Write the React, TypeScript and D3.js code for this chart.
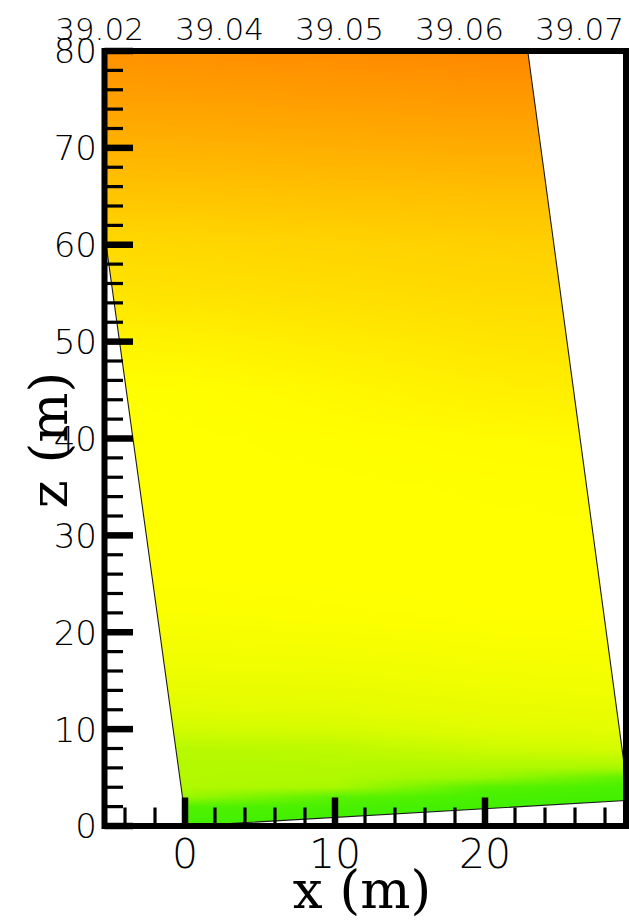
import React, { useMemo } from "react";
import * as d3 from "d3";

const WIDTH = 629;
const HEIGHT = 922;

// Frame of the plot (pixel box of the axes)
const FRAME = { left: 104.5, right: 626, top: 51, bottom: 826 };

// Axis extents in metres
const X_DOMAIN = [-5.367, 29.4];
const Z_DOMAIN = [0, 80];

// Tick labels
const xTickLabels = [0, 10, 20];
const zTickLabels = [0, 10, 20, 30, 40, 50, 60, 70, 80];
const topLabels = ["39.02", "39.04", "39.05", "39.06", "39.07"];
const topLabelPositions = [-5.7, 2.3, 10.3, 18.3, 26.3];

// Outline of the computational section (x, z corners in metres)
const sectionX = [0.1, 29.6, 22.5, -7.4];
const sectionZ = [0, 2.65, 84, 84];

// Sampled tracer field: levels (m) and columns (m)
const zLevels = [0, 1, 2, 3, 4, 5, 6, 8, 10, 12, 15, 18, 22, 26, 30, 35, 40, 45, 50, 55, 60, 65, 70, 75, 80, 85];
const xColumns = [-7, 0, 10, 20, 30];

const tracerAtXm7 = [0.13, 0.14, 0.16, 0.30, 0.345, 0.35, 0.35, 0.36, 0.40, 0.435, 0.455, 0.47, 0.49, 0.5, 0.5, 0.5, 0.5, 0.5, 0.545, 0.605, 0.65, 0.725, 0.80, 0.87, 0.93, 0.97];
const tracerAtX0 = [0.13, 0.14, 0.16, 0.30, 0.345, 0.35, 0.35, 0.36, 0.41, 0.44, 0.46, 0.475, 0.49, 0.5, 0.5, 0.5, 0.5, 0.505, 0.55, 0.612, 0.655, 0.73, 0.803, 0.874, 0.937, 0.97];
const tracerAtX10 = [0.13, 0.13, 0.14, 0.18, 0.33, 0.345, 0.35, 0.37, 0.42, 0.445, 0.462, 0.478, 0.495, 0.5, 0.5, 0.5, 0.505, 0.528, 0.575, 0.628, 0.67, 0.74, 0.815, 0.886, 0.952, 0.98];
const tracerAtX20 = [0.13, 0.13, 0.13, 0.14, 0.17, 0.30, 0.34, 0.40, 0.44, 0.455, 0.47, 0.484, 0.498, 0.5, 0.5, 0.503, 0.515, 0.56, 0.6, 0.645, 0.685, 0.748, 0.827, 0.898, 0.968, 0.99];
const tracerAtX30 = [0.13, 0.13, 0.13, 0.13, 0.14, 0.18, 0.33, 0.42, 0.445, 0.46, 0.475, 0.487, 0.5, 0.5, 0.5, 0.506, 0.525, 0.57, 0.61, 0.65, 0.69, 0.75, 0.83, 0.9, 0.97, 0.99];
const tracerColumns = [tracerAtXm7, tracerAtX0, tracerAtX10, tracerAtX20, tracerAtX30];

// Colour map: green -> yellow -> orange
const colourDomain = [0, 0.5, 1];
const colourRange = ["rgb(0,235,0)", "#ffff00", "#ff8000"];

const labelFont = "'DejaVu Sans', sans-serif";
const titleFont = "'DejaVu Serif', serif";

function sampleField(xv: number, zv: number): number {
  const nz = zLevels.length;
  const nx = xColumns.length;
  let i = Math.min(Math.max(d3.bisectRight(zLevels, zv) - 1, 0), nz - 2);
  let j = Math.min(Math.max(d3.bisectRight(xColumns, xv) - 1, 0), nx - 2);
  const tz = Math.min(Math.max((zv - zLevels[i]) / (zLevels[i + 1] - zLevels[i]), 0), 1);
  const tx = Math.min(Math.max((xv - xColumns[j]) / (xColumns[j + 1] - xColumns[j]), 0), 1);
  const a = tracerColumns[j][i] * (1 - tz) + tracerColumns[j][i + 1] * tz;
  const b = tracerColumns[j + 1][i] * (1 - tz) + tracerColumns[j + 1][i + 1] * tz;
  return a * (1 - tx) + b * tx;
}

export default function App() {
  const x = d3.scaleLinear().domain(X_DOMAIN).range([FRAME.left, FRAME.right]);
  const z = d3.scaleLinear().domain(Z_DOMAIN).range([FRAME.bottom, FRAME.top]);
  const colour = d3
    .scaleLinear<string>()
    .domain(colourDomain)
    .range(colourRange)
    .interpolate(d3.interpolateRgb)
    .clamp(true);

  const fieldUrl = useMemo(() => {
    const w = Math.ceil(FRAME.right - FRAME.left);
    const h = Math.ceil(FRAME.bottom - FRAME.top);
    const canvas = document.createElement("canvas");
    canvas.width = w;
    canvas.height = h;
    const ctx = canvas.getContext("2d");
    if (!ctx) return "";
    const lutSize = 512;
    const lut = d3.range(lutSize).map((k) => d3.rgb(colour(k / (lutSize - 1))));
    const img = ctx.createImageData(w, h);
    for (let py = 0; py < h; py++) {
      const zv = z.invert(FRAME.top + py + 0.5);
      for (let px = 0; px < w; px++) {
        const xv = x.invert(FRAME.left + px + 0.5);
        const v = sampleField(xv, zv);
        const c = lut[Math.round(Math.min(Math.max(v, 0), 1) * (lutSize - 1))];
        const o = (py * w + px) * 4;
        img.data[o] = c.r;
        img.data[o + 1] = c.g;
        img.data[o + 2] = c.b;
        img.data[o + 3] = 255;
      }
    }
    ctx.putImageData(img, 0, 0);
    return canvas.toDataURL();
  }, []);

  const sectionPath =
    d3.line()(sectionX.map((xv, k) => [x(xv), z(sectionZ[k])] as [number, number])) + "Z";

  const xMinor = d3.range(-4, 29, 2);
  const zMinor = d3.range(0, 81, 2);
  const majorLen = 28.5;
  const minorLen = 18.5;

  return (
    <svg
      width={WIDTH}
      height={HEIGHT}
      style={{ position: "absolute", left: 0, top: 0, background: "#fff" }}
    >
      <defs>
        <clipPath id="plot-area">
          <rect
            x={FRAME.left}
            y={FRAME.top}
            width={FRAME.right - FRAME.left}
            height={FRAME.bottom - FRAME.top}
          />
        </clipPath>
        <clipPath id="section">
          <path d={sectionPath} />
        </clipPath>
      </defs>

      <g clipPath="url(#plot-area)">
        <g clipPath="url(#section)">
          <image
            href={fieldUrl}
            x={FRAME.left}
            y={FRAME.top}
            width={Math.ceil(FRAME.right - FRAME.left)}
            height={Math.ceil(FRAME.bottom - FRAME.top)}
            preserveAspectRatio="none"
          />
        </g>
        <path d={sectionPath} fill="none" stroke="#1a1a1a" strokeWidth={1.1} />
      </g>

      {/* left axis ticks */}
      {zMinor.map((t) => {
        const major = t % 10 === 0;
        return (
          <line
            key={"zt" + t}
            x1={FRAME.left}
            x2={FRAME.left + (major ? majorLen : minorLen)}
            y1={z(t)}
            y2={z(t)}
            stroke="#000"
            strokeWidth={major ? 6.5 : 3.2}
          />
        );
      })}

      {/* bottom axis ticks */}
      {xMinor.map((t) => {
        const major = t % 10 === 0;
        return (
          <line
            key={"xt" + t}
            x1={x(t)}
            x2={x(t)}
            y1={FRAME.bottom}
            y2={FRAME.bottom - (major ? majorLen : minorLen)}
            stroke="#000"
            strokeWidth={major ? 6.5 : 3.2}
          />
        );
      })}

      {/* frame */}
      <rect
        x={FRAME.left}
        y={FRAME.top}
        width={FRAME.right - FRAME.left}
        height={FRAME.bottom - FRAME.top}
        fill="none"
        stroke="#000"
        strokeWidth={6}
      />

      {/* tick labels */}
      {zTickLabels.map((t) => (
        <text
          key={"zl" + t}
          x={97}
          y={z(t) + 12.4}
          textAnchor="end"
          fontFamily={labelFont}
          fontWeight={200}
          fontSize={34}
          fill="#000"
        >
          {t}
        </text>
      ))}
      {xTickLabels.map((t) => (
        <text
          key={"xl" + t}
          x={x(t)}
          y={868}
          textAnchor="middle"
          fontFamily={labelFont}
          fontWeight={200}
          fontSize={41}
          fill="#000"
        >
          {t}
        </text>
      ))}
      {topLabels.map((t, k) => (
        <text
          key={"tl" + t}
          x={x(topLabelPositions[k])}
          y={40}
          textAnchor="middle"
          fontFamily={labelFont}
          fontWeight={200}
          fontSize={31}
          fill="#000"
        >
          {t}
        </text>
      ))}

      {/* axis titles */}
      <text
        x={362}
        y={908}
        textAnchor="middle"
        fontFamily={titleFont}
        fontSize={53}
        fill="#000"
      >
        x (m)
      </text>
      <text
        transform="translate(67,440) rotate(-90)"
        textAnchor="middle"
        fontFamily={titleFont}
        fontSize={53}
        fill="#000"
      >
        z (m)
      </text>
    </svg>
  );
}
